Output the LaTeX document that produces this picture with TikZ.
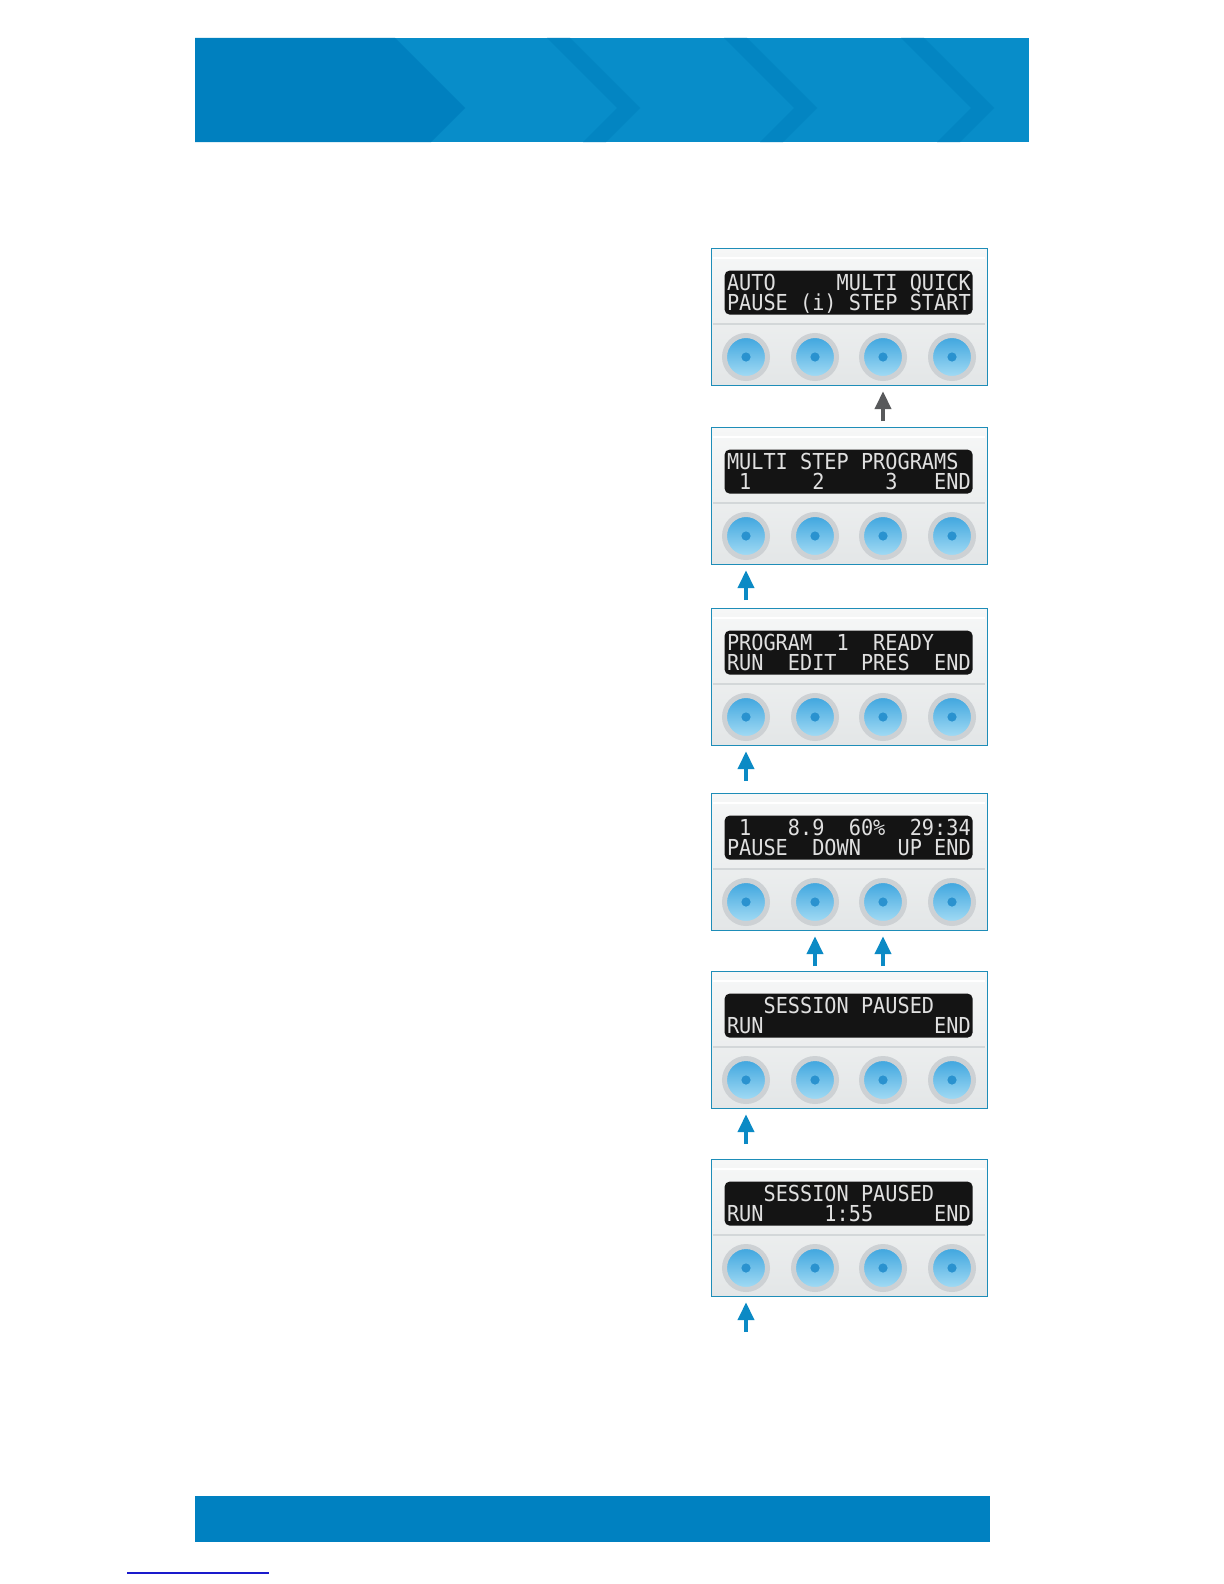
\documentclass[tikz,border=0pt]{standalone}
\usepackage{fontspec}
\newfontfamily\lcdfont[FakeStretch=0.92]{DejaVu Sans Mono}
\usetikzlibrary{arrows.meta,calc}
\definecolor{bannerblue}{HTML}{088DC9}
\definecolor{bannerdark}{HTML}{0080BF}
\definecolor{stripe}{HTML}{0385C2}
\definecolor{footblue}{HTML}{0081C1}
\definecolor{frame}{HTML}{1E8DB8}
\definecolor{paneltop}{HTML}{F6F7F7}
\definecolor{panelbot}{HTML}{E3E6E7}
\definecolor{groove}{HTML}{D3D7D9}
\definecolor{lcdbg}{HTML}{141414}
\definecolor{lcdtext}{HTML}{E0E0E0}
\definecolor{ring}{HTML}{CDD1D4}
\definecolor{knobtop}{HTML}{3CA4DE}
\definecolor{knobbot}{HTML}{A6DDF5}
\definecolor{knobdot}{HTML}{2A92CF}
\definecolor{pressblue}{HTML}{0B8AC5}
\definecolor{pressgrey}{HTML}{58595B}
\definecolor{linkblue}{HTML}{1A1ACC}

\begin{document}
\begin{tikzpicture}[
  x=0.5pt,y=-0.5pt,
  panel/.style={draw=frame, line width=0.6pt, top color=paneltop,
    bottom color=panelbot, minimum width=138pt, minimum height=68.5pt,
    anchor=north west, inner sep=0pt},
  lcd/.style={fill=lcdbg, rounded corners=2.5pt, minimum width=124pt,
    minimum height=22pt, inner sep=0pt},
  lcdline/.style={anchor=base west, inner sep=0pt, text=lcdtext,
    font=\lcdfont\fontsize{11pt}{11pt}\selectfont},
  knob/.style={circle, draw=ring, line width=2.5pt, minimum size=21.5pt,
    inner sep=0pt, top color=knobtop, bottom color=knobbot,
    path picture={\fill[knobdot] (path picture bounding box.center)
      circle (2.3pt);}},
  press/.style={-{Triangle[length=9pt,width=8pt]}, draw=pressblue,
    line width=2pt, shorten >=2.5pt},
  pressg/.style={press, draw=pressgrey}
]
\useasboundingbox[fill=white] (0,0) rectangle (1224,1584);

% Header band with chevrons.
\fill[bannerblue] (195,38) rectangle (1029,142);
\fill[bannerdark] (195,38) -- (395,38) -- (465,108) -- (431,142)
  -- (195,142) -- cycle;
\foreach \t in {640,817,994}
  \fill[stripe] (\t-93,38) -- (\t-70,38) -- (\t,108) -- (\t-34,142)
    -- (\t-57,142) -- (\t-23,108) -- cycle;

% Footer band and link rule.
\fill[footblue] (195,1496) rectangle (990,1542);
\draw[linkblue, line width=0.8pt] (127,1573) -- (269,1573);

% Display panels, each with four keys.
\foreach \n/\y/\la/\lb in {
  1/248/{AUTO~~~~~MULTI~QUICK}/{PAUSE~(i)~STEP~START},
  2/427/{MULTI~STEP~PROGRAMS}/{~1~~~~~2~~~~~3~~~END},
  3/608/{PROGRAM~~1~~READY}/{RUN~~EDIT~~PRES~~END},
  4/793/{~1~~~8.9~~60\%~~29:34}/{PAUSE~~DOWN~~~UP~END},
  5/971/{~~~SESSION~PAUSED}/{RUN~~~~~~~~~~~~~~END},
  6/1159/{~~~SESSION~PAUSED}/{RUN~~~~~1:55~~~~~END}}{
  \node[panel] (p\n) at (711,\y) {};
  \draw[white, line width=1pt] (713,\y+10) -- (985,\y+10);
  \draw[groove, line width=1pt] (713,\y+76) -- (985,\y+76);
  \node[lcd] (d\n) at ([xshift=-0.5pt,yshift=12.25pt]p\n.center) {};
  \node[lcdline] (a\n) at ([xshift=1.2pt,yshift=1pt]d\n.west) {\la};
  \node[lcdline] (b\n) at ([xshift=1.2pt,yshift=-9pt]d\n.west) {\lb};
  \foreach \k/\bx in {1/35,2/104,3/172,4/241}
    \node[knob] (k\n\k) at (711+\bx,\y+109) {};
}

% Key presses.
\coordinate (t13) at ([yshift=-17.5pt]k13 |- p1.south);
\draw[pressg] (t13) -- (t13 |- p1.south);
\coordinate (t21) at ([yshift=-17.5pt]k21 |- p2.south);
\draw[press] (t21) -- (t21 |- p2.south);
\coordinate (t31) at ([yshift=-17.5pt]k31 |- p3.south);
\draw[press] (t31) -- (t31 |- p3.south);
\coordinate (t42) at ([yshift=-17.5pt]k42 |- p4.south);
\draw[press] (t42) -- (t42 |- p4.south);
\coordinate (t43) at ([yshift=-17.5pt]k43 |- p4.south);
\draw[press] (t43) -- (t43 |- p4.south);
\coordinate (t51) at ([yshift=-17.5pt]k51 |- p5.south);
\draw[press] (t51) -- (t51 |- p5.south);
\coordinate (t61) at ([yshift=-17.5pt]k61 |- p6.south);
\draw[press] (t61) -- (t61 |- p6.south);

\end{tikzpicture}
\end{document}
